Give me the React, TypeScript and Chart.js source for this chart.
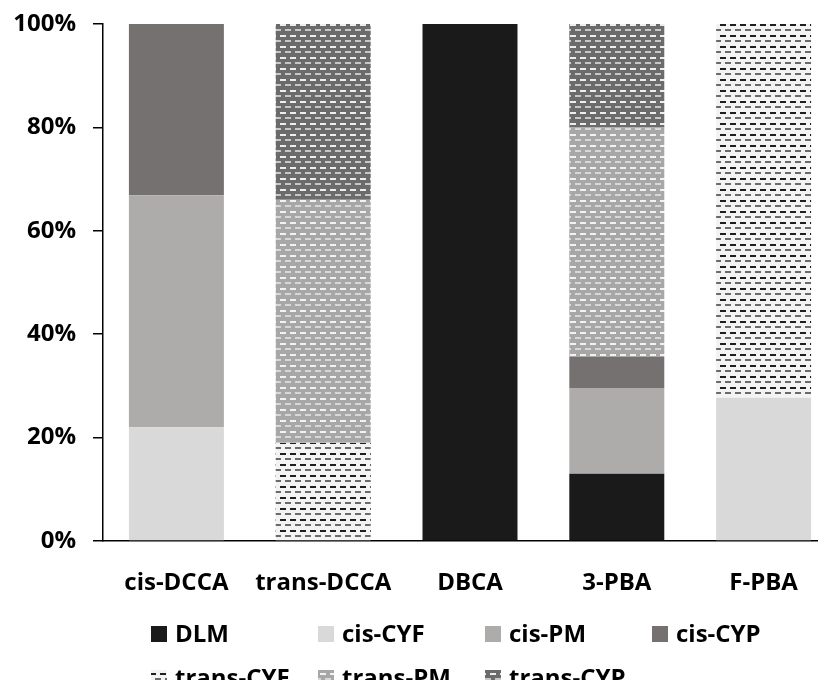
import React, { useEffect, useRef } from "react";
import { Chart, registerables } from "chart.js";

Chart.register(...registerables);

const categories = ["cis-DCCA", "trans-DCCA", "DBCA", "3-PBA", "F-PBA"];
const seriesNames = ["DLM", "cis-CYF", "cis-PM", "cis-CYP", "trans-CYF", "trans-PM", "trans-CYP"];
const dlm = [0, 0, 100, 13, 0];
const cisCYF = [22, 0, 0, 0, 27.7];
const cisPM = [44.9, 0, 0, 16.6, 0];
const cisCYP = [33.1, 0, 0, 6, 0];
const transCYF = [0, 19, 0, 0, 72.3];
const transPM = [0, 47, 0, 44.4, 0];
const transCYP = [0, 34, 0, 20, 0];
const yTickValues = [0, 20, 40, 60, 80, 100];

const FONT = '"Open Sans", "DejaVu Sans", sans-serif';

function makePattern(bg: string, dashA: string, dashB: string): CanvasPattern | string {
  const tile = document.createElement("canvas");
  tile.width = 10;
  tile.height = 11;
  const c = tile.getContext("2d");
  if (!c) return bg;
  c.fillStyle = bg;
  c.fillRect(0, 0, 10, 11);
  c.fillStyle = dashA;
  c.fillRect(0, 2, 6, 2);
  c.fillStyle = dashB;
  c.fillRect(5, 7, 5, 2);
  c.fillRect(0, 7, 1, 2);
  const p = c.createPattern(tile, "repeat");
  return p || bg;
}

export default function App() {
  const ref = useRef<HTMLCanvasElement | null>(null);

  useEffect(() => {
    const canvas = ref.current;
    if (!canvas) return;
    const pTransCYF = makePattern("#f3f3f3", "#1e1e1e", "#6a6a6a");
    const pTransPM = makePattern("#a7a7a7", "#f2f2f2", "#d8d8d8");
    const pTransCYP = makePattern("#6b6b6b", "#eeeeee", "#c8c8c8");
    const values = [dlm, cisCYF, cisPM, cisCYP, transCYF, transPM, transCYP];
    const fills: (string | CanvasPattern)[] = ["#1a1a1a", "#d9d9d9", "#aeabab", "#767171", pTransCYF, pTransPM, pTransCYP];

    const legendPlugin = {
      id: "gridLegend",
      afterDraw(chart: any) {
        const ctx = chart.ctx as CanvasRenderingContext2D;
        const left = chart.chartArea.left;
        ctx.save();
        ctx.font = `bold 24px ${FONT}`;
        ctx.textBaseline = "middle";
        ctx.textAlign = "left";
        seriesNames.forEach((name, i) => {
          const row = i < 4 ? 0 : 1;
          const col = i < 4 ? i : i - 4;
          const x = left + 48 + col * 167;
          const cy = 634 + row * 44;
          ctx.fillStyle = fills[i] as any;
          ctx.fillRect(x, cy - 8, 16, 16);
          ctx.fillStyle = "#000";
          ctx.fillText(name, x + 24, cy + 1);
        });
        ctx.restore();
      },
    };

    const chart = new Chart(canvas, {
      type: "bar",
      data: {
        labels: categories,
        datasets: seriesNames.map((name, i) => ({
          label: name,
          data: values[i],
          backgroundColor: fills[i] as any,
          borderWidth: 0,
          categoryPercentage: 1,
          barPercentage: 0.647,
        })),
      },
      options: {
        responsive: false,
        animation: false,
        layout: { padding: { left: 0, top: 24, right: 3, bottom: 0 } },
        plugins: {
          legend: { display: false },
          tooltip: { enabled: false },
        },
        scales: {
          x: {
            stacked: true,
            grid: { display: false },
            border: { display: true, color: "#000", width: 1.5 },
            ticks: {
              color: "#000",
              font: { family: FONT, size: 24, weight: "bold" },
              padding: 20,
              maxRotation: 0,
            },
            afterFit(scale: any) {
              scale.height = 147;
              scale.paddingLeft = 0;
              scale.paddingRight = 0;
            },
          },
          y: {
            stacked: true,
            min: 0,
            max: 100,
            afterBuildTicks(scale: any) {
              scale.ticks = yTickValues.map((v) => ({ value: v }));
            },
            grid: { display: true, drawOnChartArea: false, drawTicks: true, tickLength: 10, color: "#000", lineWidth: 1.5 },
            border: { display: true, color: "#000", width: 1.5 },
            ticks: {
              color: "#000",
              font: { family: FONT, size: 24, weight: "bold" },
              padding: 17,
              callback: (v: any) => `${v}%`,
            },
            afterFit(scale: any) {
              scale.width = 103;
              scale.paddingTop = 0;
              scale.paddingBottom = 0;
            },
          },
        },
      } as any,
      plugins: [legendPlugin],
    });
    return () => chart.destroy();
  }, []);

  return (
    <div style={{ margin: -8, width: 826, height: 688, overflow: "hidden", background: "#fff" }}>
      <canvas ref={ref} width={840} height={688} style={{ display: "block", width: 840, height: 688 }} />
    </div>
  );
}
